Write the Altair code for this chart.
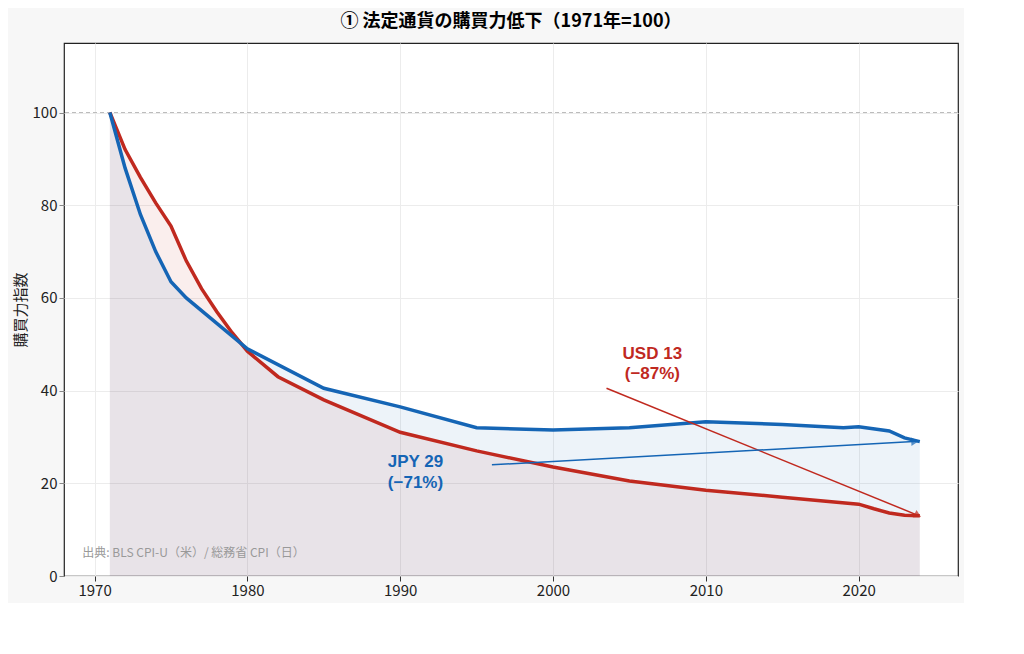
import altair as alt
import pandas as pd

usd_years = [1971,1972,1973,1974,1975,1976,1977,1978,1979,1980,1982,1985,1990,1995,2000,2005,2010,2015,2020,2021,2022,2023,2024]
usd_vals  = [100,92,86,80.5,75.5,68,62,57,52.5,48.5,43,38,31,27,23.5,20.5,18.5,17,15.5,14.5,13.6,13.1,13]
jpy_years = [1971,1972,1973,1974,1975,1976,1980,1985,1990,1995,2000,2005,2010,2015,2019,2020,2022,2023,2024]
jpy_vals  = [100,88,78,70,63.5,60,49,40.5,36.5,32,31.5,32,33.3,32.7,32,32.2,31.3,29.8,29]
names = ["ドル（USD）", "円（JPY）"]
colors = ["#c0291f", "#1565b5"]

df = pd.concat([
    pd.DataFrame({"year": usd_years, "v": usd_vals, "s": names[0]}),
    pd.DataFrame({"year": jpy_years, "v": jpy_vals, "s": names[1]}),
])
F = "Noto Sans CJK JP"
x = alt.X("year:Q", scale=alt.Scale(domain=[1968, 2026.5], nice=False),
          axis=alt.Axis(values=[1970,1980,1990,2000,2010,2020], format="d", title=None,
                        labelFontSize=15, grid=True, gridColor="#ececec", tickColor="#333"))
y = alt.Y("v:Q", stack=None, scale=alt.Scale(domain=[0, 115], nice=False),
          axis=alt.Axis(values=[0,20,40,60,80,100], title="購買力指数", titleFontSize=15,
                        titleFontWeight="normal", labelFontSize=15, grid=True, gridColor="#ececec"))
col = alt.Color("s:N", scale=alt.Scale(domain=names, range=colors),
                legend=alt.Legend(title=None, orient="top-right", labelFontSize=14, symbolType="stroke",
                                  symbolStrokeWidth=4, symbolSize=500, fillColor="white",
                                  strokeColor="#ccc", padding=8, cornerRadius=3, offset=5))
base = alt.Chart(df)
area = base.mark_area(opacity=0.08, clip=True).encode(
    x=x, y=y, color=alt.Color("s:N", scale=alt.Scale(domain=names, range=colors), legend=None))
line = base.mark_line(strokeWidth=3.5, clip=True).encode(x=x, y=y, color=col)

ref = alt.Chart(pd.DataFrame({"v": [100]})).mark_rule(strokeDash=[4,3], color="#bbb").encode(y="v:Q")

arr = pd.DataFrame({"x": [2003.5, 1996], "v": [40.5, 24], "x2": [2023.8, 2023.6], "v2": [13.2, 29],
                    "c": colors, "a": [117, 87]})
rules = alt.Chart(arr).mark_rule(strokeWidth=1.5).encode(
    x="x:Q", y="v:Q", x2="x2", y2="v2", color=alt.Color("c:N", scale=None))
heads = alt.Chart(arr).mark_point(shape="triangle", filled=True, size=70).encode(
    x="x2:Q", y="v2:Q", color=alt.Color("c:N", scale=None), angle=alt.Angle("a:Q", scale=None))

lab = pd.DataFrame({"x": [2006.5, 1991, 2006.5, 1991], "v": [48, 24.5, 43.5, 20],
                    "t": ["USD 13", "JPY 29", "(−87%)", "(−71%)"], "c": [colors[0], colors[1]]*2})
labels = alt.Chart(lab).mark_text(fontSize=17, fontWeight="bold", font="Liberation Sans").encode(
    x="x:Q", y="v:Q", text="t:N", color=alt.Color("c:N", scale=None))
src = alt.Chart(pd.DataFrame({"x": [1969.2], "v": [5], "t": ["出典: BLS CPI-U（米）/ 総務省 CPI（日）"]})).mark_text(
    align="left", fontSize=12, color="#999").encode(x="x:Q", y="v:Q", text="t:N")

chart = (ref + area + line + rules + heads + labels + src).properties(
    width=894, height=533,
    title=alt.Title("① 法定通貨の購買力低下（1971年=100）", fontSize=18, fontWeight="bold", font=F, offset=12),
    background="#f7f7f7",
).configure(font=F).configure_view(fill="white", stroke="#222", strokeWidth=1.2).configure_axis(
    domain=False, labelColor="#222", titleColor="#222")

chart.save("out.html", embed_options={"renderer": "svg", "actions": False})
